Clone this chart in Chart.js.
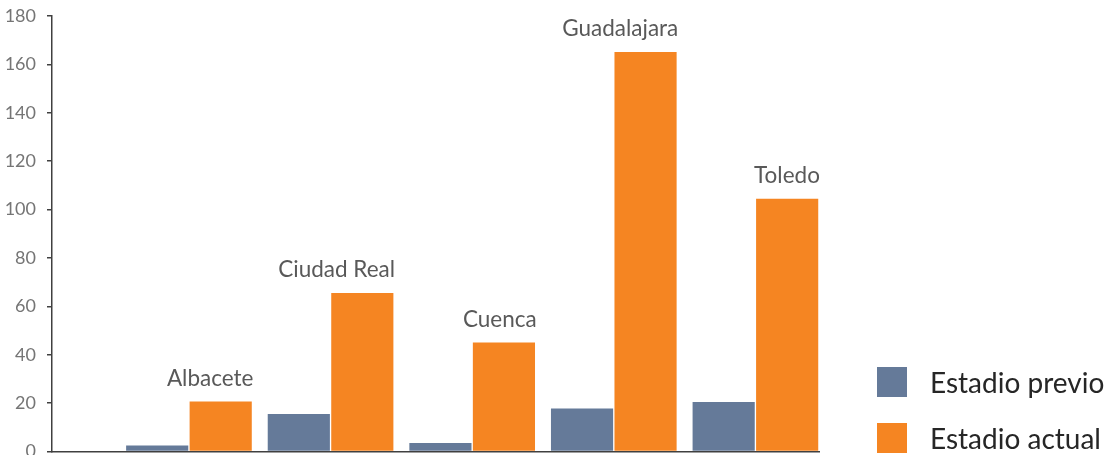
<!DOCTYPE html>
<html>
<head>
<meta charset="utf-8">
<script src="https://cdn.jsdelivr.net/npm/chart.js@4/dist/chart.umd.min.js"></script>
<style>
  html, body { margin: 0; padding: 0; background: #fff; }
  #wrap { position: relative; width: 1118px; height: 455px; }
  #c { position: absolute; left: 0; top: 0; }
  .leg { position: absolute; left: 877px; display: flex; align-items: center;
         font-family: Lato, "Open Sans", sans-serif; font-size: 28px; color: #262626; }
  .leg .box { width: 30px; height: 30px; margin-right: 23px; }
</style>
</head>
<body>
<div id="wrap">
  <canvas id="c" width="1118" height="455"></canvas>
  <div class="leg" style="top:365px;"><div class="box" id="b0"></div><span id="l0"></span></div>
  <div class="leg" style="top:421px;"><div class="box" id="b1"></div><span id="l1"></span></div>
</div>
<script>
const categories = ["Albacete", "Ciudad Real", "Cuenca", "Guadalajara", "Toledo"];
const seriesNames = ["Estadio previo", "Estadio actual"];
const previo = [2.8, 15.8, 3.8, 18, 20.7];
const actual = [20.9, 65.8, 45.3, 165.4, 104.7];
const yTicks = [0, 20, 40, 60, 80, 100, 120, 140, 160, 180];

const colors = ["#657a99", "#f58522"];

document.getElementById('b0').style.background = colors[0];
document.getElementById('b1').style.background = colors[1];
document.getElementById('l0').textContent = seriesNames[0];
document.getElementById('l1').textContent = seriesNames[1];

const catLabels = {
  id: 'catLabels',
  afterDatasetsDraw(chart) {
    const meta = chart.getDatasetMeta(1);
    const ctx = chart.ctx;
    ctx.save();
    ctx.font = '22.5px Lato, "Open Sans", sans-serif';
    ctx.fillStyle = '#595959';
    ctx.textAlign = 'right';
    ctx.textBaseline = 'alphabetic';
    meta.data.forEach((el, i) => {
      ctx.fillText(categories[i], el.x + el.width / 2 + 1, el.y - 15);
    });
    ctx.restore();
  }
};

new Chart(document.getElementById('c'), {
  type: 'bar',
  data: {
    datasets: [
      { label: seriesNames[0], data: categories.map((c, i) => ({ x: i, y: previo[i] })),
        backgroundColor: colors[0], borderColor: 'rgba(255,255,255,0.55)', borderWidth: 1 },
      { label: seriesNames[1], data: categories.map((c, i) => ({ x: i, y: actual[i] })),
        backgroundColor: colors[1], borderColor: 'rgba(255,255,255,0.55)', borderWidth: 1 }
    ]
  },
  options: {
    responsive: false,
    animation: false,
    devicePixelRatio: 1,
    barThickness: 63.5,
    layout: { padding: { top: 16, bottom: 3.5, right: 299, left: 0 } },
    plugins: { legend: { display: false }, tooltip: { enabled: false } },
    scales: {
      x: {
        type: 'linear',
        offset: false,
        min: -0.967, max: 4.449,
        afterFit(scale) { scale.height = 0; scale.paddingLeft = 0; scale.paddingRight = 0; },
        ticks: { display: false },
        grid: { display: false, drawTicks: false, offset: false },
        border: { display: true, color: '#404040', width: 1.5 }
      },
      y: {
        min: 0, max: 180,
        afterFit(scale) { scale.width = 52; scale.paddingTop = 0; scale.paddingBottom = 0; },
        afterBuildTicks(scale) { scale.ticks = yTicks.map(v => ({ value: v })); },
        ticks: { color: '#757575', font: { family: 'Lato, "Open Sans", sans-serif', size: 18 }, padding: 11 },
        grid: { drawOnChartArea: false, drawTicks: true, tickLength: 5, color: '#404040', lineWidth: 1.5 },
        border: { display: true, color: '#404040', width: 1.5 }
      }
    }
  },
  plugins: [catLabels]
});
</script>
</body>
</html>
